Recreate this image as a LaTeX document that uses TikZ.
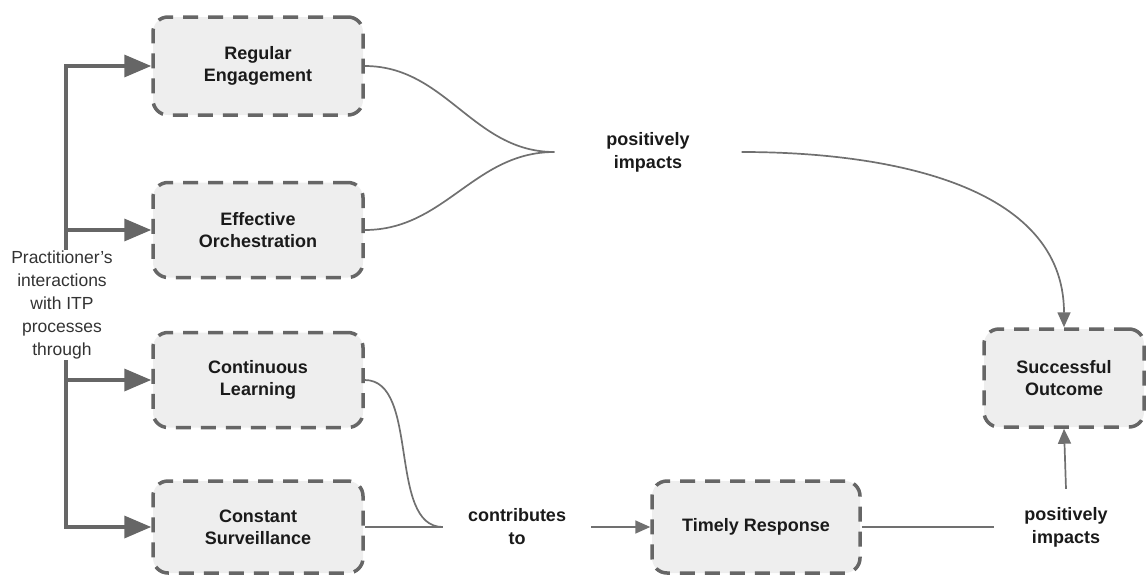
\documentclass[tikz,border=0pt]{standalone}
\usepackage{fontspec}
\setmainfont{Liberation Sans}
\usetikzlibrary{arrows.meta}
\definecolor{boxline}{HTML}{666666}
\definecolor{boxfill}{HTML}{EEEEEE}
\definecolor{conn}{HTML}{707070}
\definecolor{txt}{HTML}{1A1A1A}
\definecolor{ltxt}{HTML}{333333}
\tikzset{
  procbox/.style={draw=boxline, fill=boxfill, line width=3.5pt, dash pattern=on 15pt off 10pt,
    rounded corners=15pt, minimum width=210pt, minimum height=95pt, align=center,
    text=txt, font=\fontsize{18}{22}\selectfont\bfseries, inner sep=0pt},
  lbl/.style={align=center, text=txt, font=\fontsize{18}{23}\selectfont\bfseries, inner ysep=2pt},
  thickarrow/.style={draw=boxline, line width=3.5pt, -{Triangle[length=27pt,width=22pt]}},
  thinline/.style={draw=conn, line width=1.7pt},
  thinarrow/.style={draw=conn, line width=1.7pt, -{Triangle[length=15pt,width=13pt]}}
}
\begin{document}
\begin{tikzpicture}[x=1pt,y=-1pt]
\useasboundingbox (0,0) rectangle (1146,576);
% boxes
\node[procbox, minimum height=98pt] (RE) at (258,66) {Regular\\Engagement};
\node[procbox] (EO) at (258,230) {Effective\\Orchestration};
\node[procbox] (CL) at (258,380) {Continuous\\Learning};
\node[procbox, minimum height=92pt] (CS) at (258,527) {Constant\\Surveillance};
\node[procbox, minimum width=208pt, minimum height=92pt] (TR) at (756,527) {Timely Response};
\node[procbox, minimum width=160pt, minimum height=98pt] (SO) at (1064,378) {Successful\\Outcome};
% left text and trunk
\node[align=center, text=ltxt, font=\fontsize{17.5}{23}\selectfont, inner sep=1pt] (prac) at (62,305)
  {Practitioner's\\interactions\\with ITP\\processes\\through};
\coordinate (trunk) at (66,66);
\draw[thickarrow] (prac.north -| trunk) |- (RE.west);
\draw[thickarrow] (trunk |- EO.west) -- (EO.west);
\draw[thickarrow] (prac.south -| trunk) |- (CS.west);
\draw[thickarrow] (trunk |- CL.west) -- (CL.west);
% labels
\node[lbl, inner xsep=52pt] (pi1) at (648,152) {positively\\impacts};
\node[lbl, inner xsep=25pt] (ct) at (517,527) {contributes\\to};
\node[lbl, inner xsep=30pt, inner ysep=18pt] (pi2) at (1066,527) {positively\\impacts};
% connectors
\draw[thinline] (RE.east) to[out=0,in=180] (pi1.west);
\draw[thinline] (EO.east) to[out=0,in=180] (pi1.west);
\draw[thinarrow] (pi1.east) to[out=0,in=90] (SO.north);
\draw[thinline] (CL.east) to[out=0,in=180,looseness=0.85] (ct.west);
\draw[thinline] (CS.east) -- (ct.west);
\draw[thinarrow] (ct.east) -- (TR.west);
\draw[thinline] (TR.east) -- (pi2.west);
\draw[thinarrow] (pi2.north) -- (SO.south);
\end{tikzpicture}
\end{document}
